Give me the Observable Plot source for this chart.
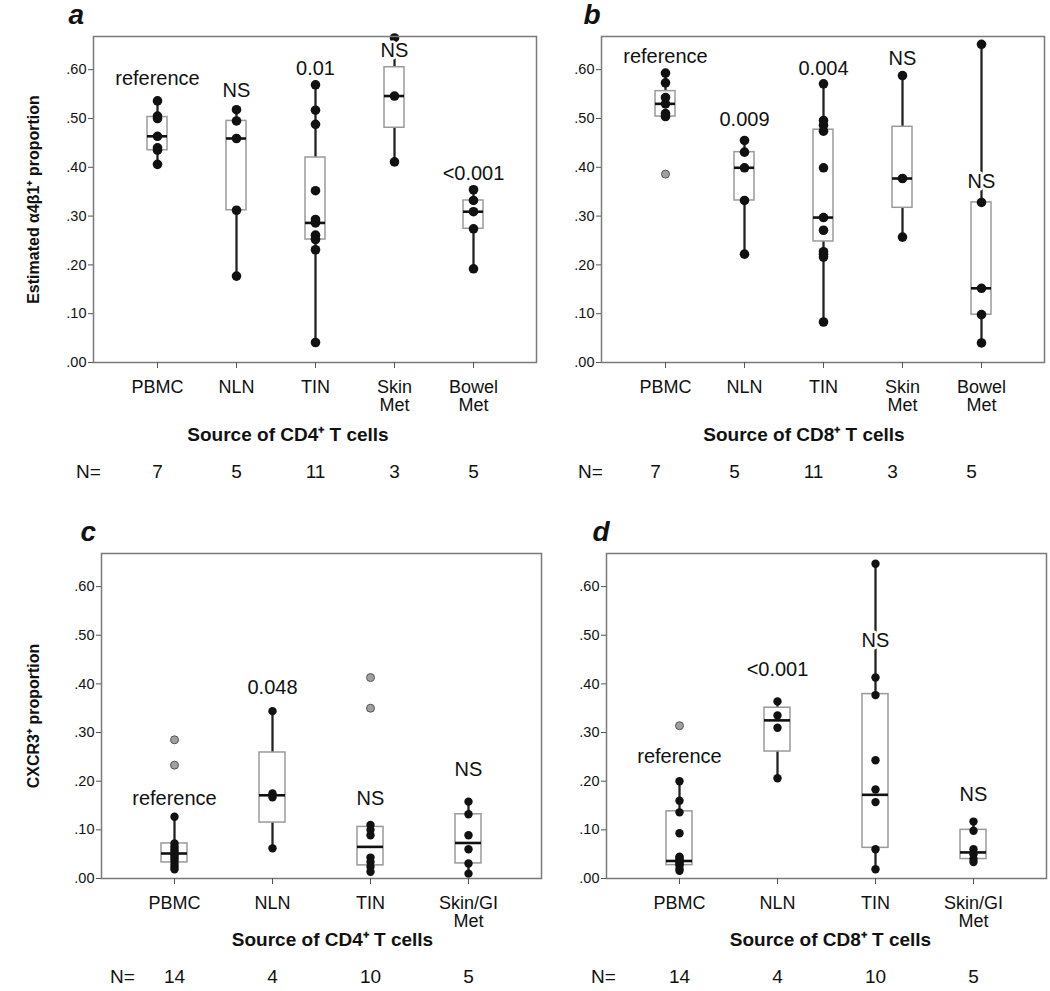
<!DOCTYPE html>
<html><head><meta charset="utf-8">
<script src="https://cdn.jsdelivr.net/npm/d3@7"></script>
<script src="https://cdn.jsdelivr.net/npm/@observablehq/plot@0.6"></script>
<style>
body{margin:0;background:#fff;}
#fig{position:relative;width:1050px;height:991px;overflow:hidden;background:#fff;}
#fig svg{position:absolute;}
</style></head><body><div id="fig"></div>
<script>
// ---------- shared ----------
const yTicks = [0, 0.1, 0.2, 0.3, 0.4, 0.5, 0.6];
const catsAB = ["PBMC", "NLN", "TIN", "Skin\nMet", "Bowel\nMet"];
const nAB = [7, 5, 11, 3, 5];
const catsCD = ["PBMC", "NLN", "TIN", "Skin/GI\nMet"];
const nCD = [14, 4, 10, 5];

// ---------- panel a : CD4, α4β1 ----------
const aQ1  = [0.435, 0.312, 0.252, 0.481, 0.274];
const aMed = [0.4635, 0.459, 0.286, 0.546, 0.309];
const aQ3  = [0.503, 0.495, 0.420, 0.605, 0.332];
const aLo  = [0.406, 0.177, 0.041, 0.411, 0.192];
const aHi  = [0.536, 0.518, 0.569, 0.668, 0.354];
const aPts = [
  [0.536, 0.505, 0.500, 0.4635, 0.44, 0.435, 0.406],
  [0.518, 0.495, 0.459, 0.312, 0.177],
  [0.569, 0.517, 0.488, 0.352, 0.293, 0.288, 0.286, 0.261, 0.252, 0.231, 0.041],
  [0.665, 0.546, 0.411],
  [0.354, 0.332, 0.309, 0.274, 0.192]
];
const aOut = [[], [], [], [], []];
const aLab  = ["reference", "NS", "0.01", "NS", "<0.001"];
const aLabY = [0.581, 0.558, 0.602, 0.64, 0.387];

// ---------- panel b : CD8, α4β1 ----------
const bQ1  = [0.504, 0.332, 0.248, 0.317, 0.098];
const bMed = [0.530, 0.399, 0.297, 0.377, 0.152];
const bQ3  = [0.556, 0.431, 0.477, 0.483, 0.328];
const bLo  = [0.503, 0.222, 0.083, 0.257, 0.040];
const bHi  = [0.593, 0.455, 0.571, 0.588, 0.652];
const bPts = [
  [0.593, 0.573, 0.543, 0.530, 0.510, 0.504],
  [0.455, 0.431, 0.399, 0.332, 0.222],
  [0.571, 0.496, 0.486, 0.474, 0.399, 0.297, 0.271, 0.227, 0.222, 0.216, 0.083],
  [0.588, 0.377, 0.257],
  [0.652, 0.328, 0.152, 0.098, 0.040]
];
const bOut = [[0.386], [], [], [], []];
const bLab  = ["reference", "0.009", "0.004", "NS", "NS"];
const bLabY = [0.626, 0.498, 0.603, 0.623, 0.370];

// ---------- panel c : CD4, CXCR3 ----------
const cQ1  = [0.033, 0.115, 0.027, 0.031];
const cMed = [0.0514, 0.171, 0.065, 0.073];
const cQ3  = [0.072, 0.259, 0.106, 0.132];
const cLo  = [0.019, 0.062, 0.014, 0.010];
const cHi  = [0.127, 0.344, 0.110, 0.158];
const cPts = [
  [0.127, 0.072, 0.066, 0.060, 0.055, 0.050, 0.046, 0.041, 0.036, 0.030, 0.024, 0.019],
  [0.344, 0.175, 0.167, 0.062],
  [0.110, 0.100, 0.089, 0.043, 0.034, 0.024, 0.014],
  [0.158, 0.132, 0.089, 0.060, 0.031, 0.010]
];
const cOut = [[0.285, 0.233], [], [0.413, 0.350], []];
const cLab  = ["reference", "0.048", "NS", "NS"];
const cLabY = [0.165, 0.392, 0.165, 0.223];

// ---------- panel d : CD8, CXCR3 ----------
const dQ1  = [0.0275, 0.261, 0.063, 0.040];
const dMed = [0.036, 0.325, 0.172, 0.0536];
const dQ3  = [0.138, 0.351, 0.379, 0.100];
const dLo  = [0.016, 0.206, 0.019, 0.032];
const dHi  = [0.200, 0.364, 0.647, 0.117];
const dPts = [
  [0.200, 0.160, 0.136, 0.093, 0.045, 0.042, 0.040, 0.036, 0.033, 0.030, 0.027, 0.020, 0.016],
  [0.364, 0.335, 0.310, 0.206],
  [0.647, 0.413, 0.377, 0.243, 0.183, 0.157, 0.060, 0.019],
  [0.117, 0.098, 0.060, 0.050, 0.040, 0.034]
];
const dOut = [[0.314], [], [], []];
const dLab  = ["reference", "<0.001", "NS", "NS"];
const dLabY = [0.251, 0.4296, 0.488, 0.172];

const xTitleCD4 = "Source of CD4\u207A T cells";
const xTitleCD8 = "Source of CD8\u207A T cells";
const yTitleA = "Estimated \u03B14\u03B21\u207A proportion";
const yTitleC = "CXCR3\u207A proportion";

const FONT = "'Liberation Sans', Arial, Helvetica, sans-serif";
const fmt = d => d3.format(".2f")(d).replace(/^0/, "");

function panel(o) {
  const rows = o.cats.map((c, i) => ({cat: c, q1: o.q1[i], med: o.med[i], q3: o.q3[i],
    lo: o.lo[i], hi: o.hi[i], n: o.n[i], lab: o.lab[i], labY: o.labY[i]}));
  const pts = o.cats.flatMap((c, i) => o.pts[i].map(v => ({cat: c, v})));
  const outs = o.cats.flatMap((c, i) => o.out[i].map(v => ({cat: c, v})));
  const marks = [
    Plot.ruleX(rows, {x: "cat", y1: "lo", y2: "hi", stroke: "#222", strokeWidth: 2.3}),
    Plot.barY(rows, {x: "cat", y1: "q1", y2: "q3", fill: "white", stroke: "#9a9a9a", strokeWidth: 1.5}),
    Plot.tickY(rows, {x: "cat", y: "med", stroke: "#111", strokeWidth: 2.6}),
    Plot.dot(pts, {x: "cat", y: "v", r: o.r, fill: "#111", stroke: "none"}),
    Plot.dot(outs, {x: "cat", y: "v", r: 4, fill: "#a0a0a0", stroke: "#555", strokeWidth: 1}),
    Plot.text(rows, {x: "cat", y: "labY", text: "lab", fontSize: 20, fill: "#111",
      stroke: "white", strokeWidth: 5}),
    Plot.frame({stroke: "#7a7a7a", strokeWidth: 1.5}),
    Plot.axisY({ticks: yTicks, tickFormat: fmt, tickSize: 5, tickPadding: 2, label: null,
      fontSize: 14.5, fill: "#111", stroke: "#555"}),
    Plot.axisX({tickSize: 6, tickPadding: 12, fontSize: 18, fill: "#111", stroke: "#555", label: null}),
    Plot.text([o.xTitle], {frameAnchor: "bottom", dx: o.xtDx, dy: o.xtDy, fontSize: 19,
      fontWeight: "bold", fill: "#111"}),
    Plot.text(["N="], {frameAnchor: "bottom-left", textAnchor: "middle", dx: o.nDx, dy: o.nDy,
      fontSize: 19, fill: "#111"}),
    Plot.text(rows, {x: "cat", text: d => String(d.n), frameAnchor: "bottom", dx: o.nValDx,
      dy: o.nDy, fontSize: 19, fill: "#111"}),
    Plot.text([o.letter], {frameAnchor: "top-left", dx: o.letDx, dy: -13, textAnchor: "start",
      lineAnchor: "bottom", fontSize: 28, fontWeight: "bold", fontStyle: "italic", fill: "#111"})
  ];
  if (o.yTitle) marks.push(Plot.text([o.yTitle], {frameAnchor: "left", textAnchor: "middle",
      dx: o.ytDx, rotate: -90, fontSize: 16, fontWeight: "bold", fill: "#111"}));
  const svg = Plot.plot({
    width: o.width, height: o.height,
    marginLeft: o.ml, marginRight: o.mr, marginTop: o.mt, marginBottom: o.mb,
    style: {fontFamily: FONT, background: "transparent", overflow: "visible", maxWidth: "none"},
    x: {type: "band", domain: o.cats, paddingInner: o.pi, paddingOuter: o.po, axis: null, label: null},
    y: {domain: [0, 0.668], axis: null, label: null},
    marks
  });
  svg.style.left = o.left + "px";
  svg.style.top = o.top + "px";
  document.getElementById("fig").appendChild(svg);
}

const geomAB = {width: 545, height: 500, ml: 93, mr: 9, mt: 36, mb: 138, pi: 0.748, po: 0.664,
  r: 4.8, xtDy: 78, nDy: 115};
const geomCD = {width: 545, height: 474, ml: 101, mr: 4, mt: 36, mb: 113, pi: 0.737, po: 0.594,
  r: 4.2, xtDy: 67, nDy: 104};

panel({...geomAB, left: 0, top: 0, letter: "a", cats: catsAB, n: nAB,
  q1: aQ1, med: aMed, q3: aQ3, lo: aLo, hi: aHi, pts: aPts, out: aOut, lab: aLab, labY: aLabY,
  xTitle: xTitleCD4, yTitle: yTitleA, xtDx: -27, nDx: -5, nValDx: 0, letDx: -25, ytDx: -60});
panel({...geomAB, width: 542, mr: 6, left: 508, top: 0, letter: "b", cats: catsAB, n: nAB,
  q1: bQ1, med: bMed, q3: bQ3, lo: bLo, hi: bHi, pts: bPts, out: bOut, lab: bLab, labY: bLabY,
  xTitle: xTitleCD8, yTitle: null, xtDx: -19, nDx: -11, nValDx: -10, letDx: -18});
panel({...geomCD, left: 0, top: 517, letter: "c", cats: catsCD, n: nCD,
  q1: cQ1, med: cMed, q3: cQ3, lo: cLo, hi: cHi, pts: cPts, out: cOut, lab: cLab, labY: cLabY,
  xTitle: xTitleCD4, yTitle: yTitleC, xtDx: 11, nDx: 21, nValDx: 0, letDx: -21, ytDx: -68});
panel({...geomCD, left: 505, top: 517, letter: "d", cats: catsCD, n: nCD,
  q1: dQ1, med: dMed, q3: dQ3, lo: dLo, hi: dHi, pts: dPts, out: dOut, lab: dLab, labY: dLabY,
  xTitle: xTitleCD8, yTitle: null, xtDx: 4, nDx: -3, nValDx: 0, letDx: -14});
</script></body></html>
